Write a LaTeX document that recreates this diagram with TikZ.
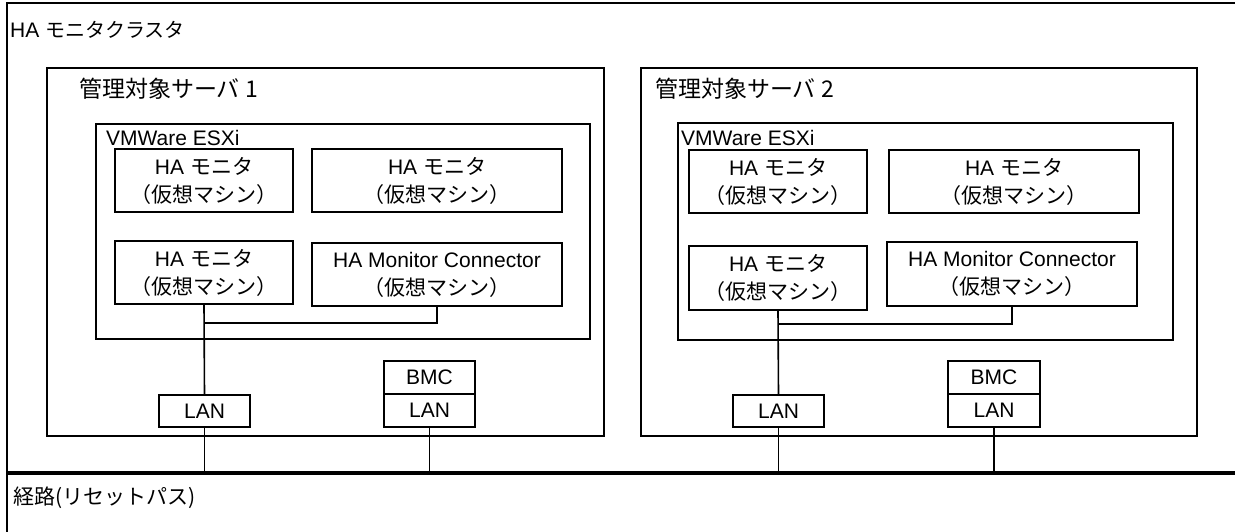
\documentclass[tikz,border=0pt]{standalone}
\usepackage{fontspec}
\setmainfont{Liberation Sans}
\newfontfamily\jpfont{Noto Sans CJK JP}
\newcommand\jp[1]{{\jpfont\fontsize{21bp}{28bp}\selectfont #1}}
\newcommand\jpc[1]{{\jpfont\fontsize{20bp}{28bp}\selectfont #1}}
\newcommand\jpt[1]{{\jpfont\fontsize{23bp}{28bp}\selectfont #1}}
\begin{document}
\begin{tikzpicture}[x=1bp,y=-1bp,
  frame/.style={draw, line width=1.4bp, inner sep=0pt},
  box/.style={draw, line width=1.6bp, inner sep=0pt, align=center, font=\fontsize{21bp}{28bp}\selectfont},
  lbl/.style={inner sep=0pt, anchor=west, font=\fontsize{21bp}{28bp}\selectfont},
  wire/.style={line width=1.6bp}]
\useasboundingbox (0,0) rectangle (1235,532);
% cluster
\draw[line width=2bp] (7,532) -- (7,3) -- (1235,3);
\draw[line width=4bp] (7,473) -- (1235,473);
\coordinate (bus) at (0,473);
\node[lbl] (clbl) at (10,30) {HA \jpc{モニタクラスタ}};
\node[lbl] (rlbl) at (13,498) {\jp{経路(リセットパス)}};
% server 1
\node[frame, minimum width=557bp, minimum height=368bp] (srv1) at (325.5,252) {};
\node[lbl] (t1) at (79,89) {\jpt{管理対象サーバ 1}};
\node[frame, minimum width=494bp, minimum height=215bp] (esx1) at (343,231.5) {};
\node[lbl] (e1) at (106,138) {VMWare ESXi};
\node[box, minimum width=178bp, minimum height=63bp] (s1a) at (204,180.5) {HA \jp{モニタ}\\\jp{（仮想マシン）}};
\node[box, minimum width=250bp, minimum height=63bp] (s1b) at (437,180.5) {HA \jp{モニタ}\\\jp{（仮想マシン）}};
\node[box, minimum width=178bp, minimum height=63bp] (s1c) at (204,272.5) {HA \jp{モニタ}\\\jp{（仮想マシン）}};
\node[box, minimum width=250bp, minimum height=63bp] (s1d) at (437,274.5) {HA Monitor Connector\\\jp{（仮想マシン）}};
\node[box, minimum width=91bp, minimum height=32bp] (s1lan) at (204.5,411) {LAN};
\node[box, minimum width=91bp, minimum height=33bp] (s1bmc) at (429.5,377.5) {BMC};
\node[box, minimum width=91bp, minimum height=33bp] (s1blan) at (429.5,410.5) {LAN};
\coordinate (j1) at (204,323);
\draw[wire] (s1c.south) -- (s1lan.north);
\draw[wire] (s1d.south) |- (j1);
\draw[wire] (s1lan.south) -- (s1lan.south |- bus);
\draw[wire] (s1blan.south) -- (s1blan.south |- bus);
% server 2
\node[frame, minimum width=556bp, minimum height=368bp] (srv2) at (919,252) {};
\node[lbl] (t2) at (655,89) {\jpt{管理対象サーバ 2}};
\node[frame, minimum width=495bp, minimum height=217bp] (esx2) at (925.5,231.5) {};
\node[lbl] (e2) at (681,138) {VMWare ESXi};
\node[box, minimum width=178bp, minimum height=63bp] (s2a) at (778,181.5) {HA \jp{モニタ}\\\jp{（仮想マシン）}};
\node[box, minimum width=250bp, minimum height=63bp] (s2b) at (1014,181.5) {HA \jp{モニタ}\\\jp{（仮想マシン）}};
\node[box, minimum width=178bp, minimum height=64bp] (s2c) at (778,278) {HA \jp{モニタ}\\\jp{（仮想マシン）}};
\node[box, minimum width=250bp, minimum height=64bp] (s2d) at (1012,274) {HA Monitor Connector\\\jp{（仮想マシン）}};
\node[box, minimum width=91bp, minimum height=32bp] (s2lan) at (778.5,411) {LAN};
\node[box, minimum width=92bp, minimum height=33bp] (s2bmc) at (994,377.5) {BMC};
\node[box, minimum width=92bp, minimum height=33bp] (s2blan) at (994,410.5) {LAN};
\coordinate (j2) at (778,324);
\draw[wire] (s2c.south) -- (s2lan.north);
\draw[wire] (s2d.south) |- (j2);
\draw[wire] (s2lan.south) -- (s2lan.south |- bus);
\draw[wire] (s2blan.south) -- (s2blan.south |- bus);
\end{tikzpicture}
\end{document}
